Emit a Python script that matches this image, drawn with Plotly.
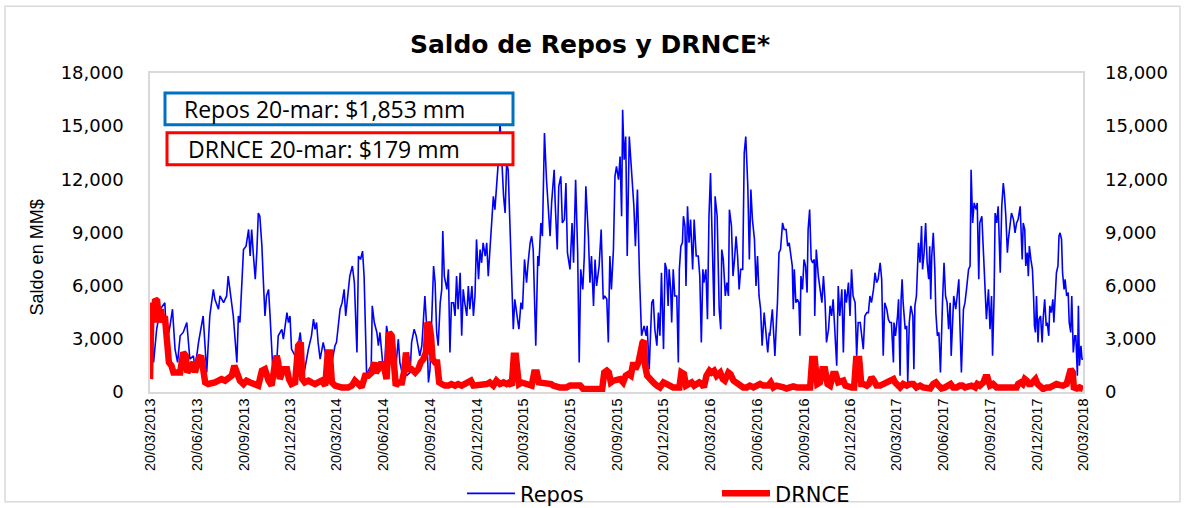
import pandas as pd
import plotly.graph_objects as go

START = pd.Timestamp("2013-03-20")
END = pd.Timestamp("2018-03-20")

# ---------------- Repos (days since 20/03/2013, MM$) ----------------
repos_days_1 = [0, 7, 13, 20, 29, 33, 39, 44, 49, 54, 59, 65, 72, 78, 85, 88, 95, 101, 104, 111,
                117, 124, 127, 134, 137, 144, 150, 153, 157, 163, 170, 173, 176, 183, 188, 193, 196, 199, 202, 206,
                209, 212, 215, 219, 222, 225, 228]
repos_vals_1 = [4670, 1670, 3540, 4670, 5040, 2800, 3700, 4670, 2420, 1670, 3170, 3360, 3920, 1860, 2040, 1290, 2800, 3920, 4290, 1100,
                4290, 5790, 5230, 4670, 5420, 5040, 5420, 6540, 5610, 4290, 1670, 4290, 3920, 8040, 8230, 9170, 7670, 9170, 7860, 6360,
                7860, 10100, 9920, 8230, 6170, 4290, 5420]

repos_days_2 = [232, 235, 238, 241, 248, 251, 258, 261, 268, 271, 274, 277, 284, 290, 294, 297, 300, 303, 310, 316,
                320, 323, 326, 329, 333, 336, 339, 343, 349, 356, 362, 365, 372, 376, 380, 383, 387, 391, 396, 400,
                405, 408, 412, 416, 419, 424, 429, 433, 435, 439, 444, 447, 450, 453, 457, 460, 463, 470, 476]
repos_vals_2 = [5790, 4290, 2420, 920, 1670, 3170, 3540, 2980, 4480, 3920, 4290, 2420, 2040, 2610, 3360, 2420, 920, 1290, 2420, 3170,
                4110, 3540, 3920, 2800, 1860, 2420, 2800, 2230, 540, 1670, 2610, 2800, 4670, 5040, 5790, 4290, 5420, 6540, 7110, 6170,
                2230, 7670, 7480, 7950, 6540, 920, 1290, 1480, 4860, 3920, 3360, 2610, 3360, 2230, 1100, 1860, 3730, 2420, 1290]

repos_days_3 = [479, 486, 489, 496, 499, 502, 509, 512, 517, 521, 525, 528, 532, 535, 538, 541, 545, 548, 551, 555,
                558, 561, 564, 568, 571, 573, 576, 581, 584, 587, 590, 594, 597, 600, 603, 607, 610, 613, 616, 620,
                623, 626, 630, 633, 636, 639, 643, 646, 649, 652, 656, 659, 662, 665, 669, 672, 675, 678, 682, 685,
                688, 692, 695, 698, 701, 705, 708, 711, 714, 721]
repos_vals_3 = [730, 2980, 1670, 730, 2040, 920, 1100, 2800, 3540, 3170, 2610, 2040, 2610, 4290, 5420, 3920, 540, 1290, 3920, 7110,
                6170, 3360, 2610, 5040, 5790, 9080, 6540, 5790, 6920, 2230, 5040, 5040, 4290, 6540, 4670, 6730, 3170, 5790, 5040, 4290,
                5980, 4670, 5980, 4290, 5420, 8610, 6360, 8040, 7290, 8420, 7670, 8420, 6540, 7860, 9730, 11040, 10290, 11420, 13110, 15200,
                13110, 11040, 10100, 12920, 12540, 9170, 5420, 3540, 5230, 3540]

repos_days_4 = [722, 726, 729, 733, 737, 740, 744, 747, 750, 755, 759, 761, 765, 768, 772, 776, 780, 783, 786, 791,
                793, 797, 800, 804, 807, 811, 814, 817, 822, 826, 829, 833, 837, 840, 843, 847, 850, 853, 858, 861,
                864, 868, 871, 874, 879, 883, 887, 890, 894, 897, 900, 903, 907, 910, 913, 917, 920, 923, 925, 928,
                931, 934, 938, 943, 947, 950, 954, 958, 962, 967]
repos_vals_4 = [3540, 5040, 4670, 7480, 6170, 7290, 8420, 8790, 8040, 2610, 7670, 7110, 9540, 8790, 14610, 11980, 10100, 8790, 10670, 12540,
                10670, 8040, 11610, 12170, 9540, 9730, 11790, 7860, 6920, 9540, 7290, 11980, 7860, 1670, 6920, 5790, 7670, 11610, 8790, 6170,
                7670, 4860, 7480, 5980, 7110, 9170, 5230, 5420, 5230, 2800, 7670, 5790, 8040, 12170, 12730, 11980, 13290, 9920, 15920, 13110,
                14420, 7670, 14420, 11980, 10480, 8230, 11420, 6540, 3170, 3730]

repos_days_5 = [971, 973, 977, 982, 985, 988, 992, 995, 998, 1001, 1005, 1008, 1011, 1014, 1016, 1019, 1021, 1024, 1027, 1031,
                1034, 1036, 1039, 1042, 1044, 1047, 1049, 1052, 1055, 1058, 1062, 1065, 1069, 1073, 1076, 1079, 1082, 1084, 1088, 1091,
                1094, 1097, 1100, 1104, 1106, 1110, 1114, 1117, 1119, 1122, 1126, 1129, 1132, 1134, 1138, 1141, 1144, 1147, 1150, 1153,
                1156, 1160, 1163, 1166, 1170, 1173, 1176, 1179, 1183, 1186, 1189, 1192, 1195, 1198, 1202, 1206, 1209, 1212]
repos_vals_5 = [3170, 3730, 1290, 5040, 5230, 3540, 2610, 4480, 3170, 6730, 2420, 7290, 6920, 4860, 6920, 5790, 3920, 6920, 5420, 5420,
                1670, 6920, 8230, 8420, 9920, 9360, 5980, 10480, 8420, 9730, 6920, 9730, 7670, 7670, 6540, 2800, 6920, 6170, 6920, 4110,
                9920, 12360, 8420, 4290, 11040, 9920, 4670, 3540, 8040, 7480, 5420, 6170, 5420, 10290, 9360, 6540, 7480, 8790, 7670, 5790,
                6920, 6920, 13480, 14420, 11610, 7480, 11420, 9730, 8610, 5980, 7670, 5420, 4670, 2610, 4480, 3170, 2230, 3360]

repos_days_6 = [1213, 1218, 1221, 1223, 1226, 1228, 1231, 1234, 1238, 1241, 1245, 1248, 1251, 1254, 1257, 1259, 1261, 1264, 1267, 1270,
                1272, 1274, 1277, 1280, 1283, 1286, 1288, 1291, 1294, 1297, 1300, 1301, 1304, 1308, 1311, 1315, 1318, 1321, 1324, 1328,
                1331, 1334, 1337, 1341, 1344, 1347, 1350, 1354, 1357, 1360, 1363, 1367, 1370, 1373, 1376, 1380, 1383, 1386, 1390, 1393,
                1396, 1399, 1403, 1406, 1409, 1412, 1416, 1419, 1422, 1425, 1429, 1432, 1435, 1438, 1442, 1445, 1448, 1451, 1455]
repos_vals_6 = [3170, 4670, 3170, 2040, 3920, 5040, 7860, 8040, 9540, 9170, 9170, 8230, 8420, 7860, 7110, 4670, 6920, 5040, 5230, 5040,
                3170, 6540, 5790, 7480, 7110, 5610, 9170, 10290, 7480, 7290, 7480, 4290, 8040, 6540, 5790, 5040, 6540, 5230, 2800, 3540,
                4860, 4290, 5230, 3170, 1480, 5980, 4290, 5790, 2230, 5790, 5040, 6170, 4290, 6920, 5420, 5040, 2040, 3920, 3920, 3170,
                2420, 4290, 4480, 4480, 5420, 5040, 5790, 6730, 6170, 6360, 7290, 6360, 2040, 5040, 4670, 4110, 3920, 3920, 1670]

repos_days_7 = [1456, 1459, 1463, 1465, 1468, 1470, 1472, 1474, 1478, 1481, 1483, 1486, 1489, 1493, 1495, 1497, 1500, 1504, 1507, 1510,
                1512, 1515, 1518, 1521, 1524, 1526, 1528, 1530, 1533, 1536, 1538, 1541, 1544, 1547, 1551, 1554, 1557, 1560, 1563, 1566,
                1568, 1571, 1573, 1577, 1580, 1583, 1585, 1588, 1592, 1595, 1598, 1602, 1605, 1607, 1610, 1613, 1617, 1619, 1622, 1624,
                1628, 1631, 1634, 1637, 1641, 1644, 1647, 1649, 1652, 1654, 1657, 1660, 1664]
repos_vals_7 = [3920, 3170, 4290, 5230, 920, 5230, 6360, 5040, 3540, 3730, 540, 3920, 4860, 4290, 1290, 4860, 5420, 8420, 7290, 9360,
                6920, 7860, 9540, 7290, 6360, 8230, 5230, 7670, 8980, 6920, 4480, 3170, 3360, 1100, 5040, 7290, 5420, 5040, 3540, 5040,
                2040, 3920, 5420, 4670, 5420, 6360, 3920, 1100, 4670, 5040, 5790, 6920, 7110, 12540, 9540, 10670, 10290, 10670, 6360, 9540,
                9920, 7670, 5980, 4110, 5790, 3540, 5420, 2040, 5420, 10100, 9540, 10480, 6730]

repos_days_8 = [1667, 1670, 1672, 1675, 1678, 1680, 1683, 1686, 1690, 1693, 1696, 1699, 1703, 1705, 1707, 1709, 1712, 1714, 1717, 1719,
                1721, 1724, 1727, 1729, 1731, 1733, 1735, 1738, 1740, 1743, 1746, 1748, 1751, 1754, 1756, 1759, 1761, 1764, 1767, 1769,
                1772, 1774, 1777, 1779, 1781, 1784, 1786, 1789, 1791, 1794, 1797, 1799, 1802, 1804, 1807, 1810, 1812, 1815, 1817, 1819,
                1822, 1824, 1826]
repos_vals_8 = [10480, 11790, 11230, 9920, 7860, 8610, 9360, 10100, 9730, 8980, 9540, 9730, 10480, 9360, 7480, 9540, 9170, 7110, 7860, 6540,
                8230, 7480, 6920, 5610, 3730, 3360, 5420, 2790, 4110, 4290, 2790, 4110, 5230, 3730, 3920, 3170, 4860, 4480, 5230, 3920,
                5610, 6730, 7110, 8790, 8980, 8610, 6730, 5790, 6360, 5420, 5610, 3920, 3360, 5420, 2230, 3170, 3170, 920, 4860, 1480,
                2610, 1860, 1853]

# ---------------- DRNCE (days since 20/03/2013, MM$) ----------------
drnce_days_1 = [0, 3, 7, 10, 14, 18, 21, 25, 29, 34, 37, 42, 46, 52, 59, 65, 70, 73, 78, 85,
                88, 95, 100, 103, 108, 114, 121, 127, 134, 140, 147, 153, 160, 165, 170, 176, 183, 189, 196, 202,
                212, 219, 225, 232]
drnce_vals_1 = [730, 5040, 3920, 5230, 5140, 3920, 4670, 3920, 4290, 2800, 1670, 1480, 1100, 1100, 1100, 2230, 2040, 1100, 1290, 1670,
                1100, 1860, 2040, 1290, 540, 450, 450, 540, 640, 730, 640, 730, 920, 1480, 1100, 640, 450, 640, 540, 450,
                360, 1200, 1290, 640]

drnce_days_2 = [235, 238, 245, 248, 251, 254, 261, 268, 272, 277, 284, 290, 295, 298, 303, 310, 316, 323, 329, 336,
                343, 348, 352, 356, 362, 369, 375, 382, 388, 395, 401, 408, 414, 421, 427, 434, 439, 442, 447, 453,
                459, 463, 468, 473]
drnce_vals_2 = [450, 360, 1670, 2040, 1670, 730, 1290, 1290, 730, 450, 540, 2610, 2800, 730, 540, 640, 540, 450, 540, 640,
                360, 2230, 2230, 540, 360, 260, 260, 260, 260, 360, 640, 450, 260, 920, 920, 1100, 1670, 1100, 1290, 1670,
                1290, 730, 3360, 3170]

drnce_days_3 = [477, 481, 486, 493, 497, 501, 506, 512, 519, 525, 530, 535, 540, 543, 547, 550, 553, 558, 562, 566,
                571, 577, 584, 590, 597, 603, 610, 616, 623, 628, 633, 639, 646, 652, 659, 665, 672, 678, 685, 692,
                698, 703, 708, 712, 716, 721]
drnce_vals_3 = [1290, 360, 540, 540, 1100, 2230, 1290, 1290, 1100, 1290, 1670, 1860, 2230, 3920, 3730, 3170, 1860, 1670, 1670, 540,
                450, 360, 360, 450, 360, 450, 360, 450, 540, 640, 360, 360, 450, 360, 450, 540, 360, 640, 450, 540,
                450, 540, 360, 2040, 2040, 640]

drnce_days_4 = [722, 727, 734, 740, 747, 752, 757, 761, 767, 773, 780, 785, 789, 796, 802, 809, 815, 822, 828, 835,
                842, 848, 855, 861, 868, 874, 881, 885, 889, 894, 898, 902, 907, 913, 920, 926, 931, 936, 941, 946,
                950, 956, 960, 964, 967]
drnce_vals_4 = [450, 540, 450, 450, 360, 1100, 1100, 540, 540, 540, 450, 450, 360, 260, 260, 260, 260, 360, 360, 450,
                360, 170, 170, 170, 170, 170, 170, 170, 1100, 1200, 1100, 540, 640, 640, 730, 540, 920, 1010, 920, 1670,
                1290, 1670, 2610, 2800, 2890]

drnce_days_5 = [969, 973, 978, 985, 992, 998, 1005, 1011, 1018, 1024, 1031, 1036, 1040, 1045, 1049, 1055, 1060, 1065, 1070, 1075,
                1080, 1084, 1089, 1095, 1099, 1104, 1109, 1116, 1121, 1125, 1132, 1136, 1142, 1148, 1155, 1161, 1168, 1174, 1181, 1187,
                1194, 1200, 1207]
drnce_vals_5 = [1480, 920, 730, 540, 360, 260, 540, 450, 360, 260, 260, 260, 1100, 1010, 360, 450, 540, 360, 450, 540,
                450, 260, 920, 1200, 1100, 1200, 920, 1100, 730, 640, 1100, 1010, 640, 540, 360, 260, 260, 360, 260, 360,
                450, 360, 360]

drnce_days_6 = [1210, 1215, 1220, 1226, 1233, 1240, 1246, 1253, 1259, 1266, 1272, 1279, 1285, 1292, 1296, 1301, 1306, 1311, 1316, 1321,
                1326, 1331, 1337, 1342, 1347, 1352, 1357, 1361, 1367, 1373, 1378, 1382, 1388, 1392, 1396, 1403, 1407, 1412, 1417, 1422,
                1429, 1435, 1440, 1445, 1450, 1455]
drnce_vals_6 = [360, 540, 260, 360, 260, 260, 200, 260, 320, 260, 260, 260, 320, 260, 1860, 1860, 450, 540, 1290, 1290,
                450, 360, 1010, 1010, 540, 640, 640, 360, 260, 260, 260, 1860, 1860, 450, 450, 360, 450, 830, 640, 360,
                360, 450, 540, 540, 640, 730]

drnce_days_7 = [1458, 1463, 1468, 1474, 1481, 1487, 1494, 1500, 1507, 1513, 1520, 1527, 1533, 1538, 1543, 1549, 1556, 1562, 1567, 1572,
                1579, 1585, 1590, 1595, 1602, 1608, 1615, 1619, 1624, 1631, 1635, 1639, 1644, 1650, 1657, 1664]
drnce_vals_7 = [540, 360, 260, 450, 360, 450, 450, 260, 360, 260, 200, 200, 450, 540, 360, 200, 260, 360, 450, 260,
                260, 360, 360, 260, 360, 360, 260, 450, 360, 540, 830, 830, 360, 450, 260, 260]

drnce_days_8 = [1670, 1677, 1683, 1690, 1696, 1699, 1704, 1708, 1712, 1716, 1720, 1724, 1729, 1733, 1737, 1742, 1748, 1755, 1761, 1768,
                1774, 1781, 1787, 1794, 1799, 1802, 1806, 1808, 1814, 1819, 1823, 1826]
drnce_vals_8 = [170, 260, 260, 170, 260, 450, 540, 450, 730, 640, 450, 450, 640, 730, 450, 260, 170, 260, 260, 360,
                450, 390, 360, 450, 1290, 1290, 1110, 260, 200, 260, 200, 179]

# ---------------- axis labels ----------------
x_tick_labels = ["20/03/2013", "20/06/2013", "20/09/2013", "20/12/2013", "20/03/2014", "20/06/2014", "20/09/2014",
                 "20/12/2014", "20/03/2015", "20/06/2015", "20/09/2015", "20/12/2015", "20/03/2016", "20/06/2016",
                 "20/09/2016", "20/12/2016", "20/03/2017", "20/06/2017", "20/09/2017", "20/12/2017", "20/03/2018"]
y_ticks = [0, 3000, 6000, 9000, 12000, 15000, 18000]

title_text = "Saldo de Repos y DRNCE*"
y_title = "Saldo en MM$"
box_repos = "Repos 20-mar: $1,853 mm"
box_drnce = "DRNCE 20-mar: $179 mm"

# ---------------- assemble ----------------
repos_days = (repos_days_1 + repos_days_2 + repos_days_3 + repos_days_4 +
              repos_days_5 + repos_days_6 + repos_days_7 + repos_days_8)
repos_vals = (repos_vals_1 + repos_vals_2 + repos_vals_3 + repos_vals_4 +
              repos_vals_5 + repos_vals_6 + repos_vals_7 + repos_vals_8)
drnce_days = (drnce_days_1 + drnce_days_2 + drnce_days_3 + drnce_days_4 +
              drnce_days_5 + drnce_days_6 + drnce_days_7 + drnce_days_8)
drnce_vals = (drnce_vals_1 + drnce_vals_2 + drnce_vals_3 + drnce_vals_4 +
              drnce_vals_5 + drnce_vals_6 + drnce_vals_7 + drnce_vals_8)
assert len(repos_days) == len(repos_vals), (len(repos_days), len(repos_vals))
assert len(drnce_days) == len(drnce_vals), (len(drnce_days), len(drnce_vals))


def to_dates(days):
    return [START + pd.Timedelta(days=d) for d in days]


tick_vals = [pd.to_datetime(t, format="%d/%m/%Y") for t in x_tick_labels]

fig = go.Figure()
fig.add_trace(go.Scatter(x=to_dates(repos_days), y=repos_vals, mode="lines", name="Repos",
                         line=dict(color="#0000FF", width=1.6), yaxis="y"))
fig.add_trace(go.Scatter(x=to_dates(drnce_days), y=drnce_vals, mode="lines", name="DRNCE",
                         line=dict(color="#FF0000", width=6.5), yaxis="y2"))

# the page renders the figure somewhat shorter than the requested height,
# so request a taller figure to get an effective ~508 px canvas
W, H = 1185, 526
H_VIEW = 508
L, R, T, B = 150, 1083, 73, 393
B_MARGIN = 115


def px(x):
    return (x - L) / (R - L)


def py(y):
    return (B - y) / (B - T)


tickfont = dict(family="DejaVu Sans", size=18, color="black")

fig.update_layout(
    width=W, height=H, autosize=False,
    margin=dict(l=L, r=W - R, t=T, b=B_MARGIN),
    paper_bgcolor="white", plot_bgcolor="white",
    title=dict(text="<b>" + title_text + "</b>", x=px(590), xref="paper", xanchor="center",
               y=1 - 43 / H_VIEW, yref="container", yanchor="middle",
               font=dict(family="DejaVu Sans", size=25, color="black")),
    xaxis=dict(type="date", range=[START, END], tickvals=tick_vals, ticktext=x_tick_labels,
               tickangle=-90, tickfont=dict(family="Liberation Sans", size=14.5, color="black"),
               showgrid=False, zeroline=False, showline=True, linecolor="#d9d9d9", linewidth=1.5,
               mirror=True, ticks="", ticklabelstandoff=-1),
    yaxis=dict(range=[0, 18000], tickvals=y_ticks, tickformat=",d", tickfont=tickfont,
               showgrid=False, zeroline=False, showline=True, linecolor="#d9d9d9", linewidth=1.5,
               mirror=True, ticks="", ticklabelstandoff=21),
    yaxis2=dict(range=[0, 18000], tickvals=y_ticks, tickformat=",d", tickfont=tickfont,
                overlaying="y", side="right", showgrid=False, zeroline=False, showline=False,
                ticks="", ticklabelstandoff=21),
    showlegend=True,
    legend=dict(orientation="h", x=px(462), xanchor="left", y=py(495), yanchor="middle",
                font=dict(family="DejaVu Sans", size=21, color="black"),
                itemwidth=48, entrywidth=192, bgcolor="rgba(0,0,0,0)"),
    shapes=[
        dict(type="rect", xref="paper", yref="paper", x0=px(5), x1=px(1180), y0=py(503), y1=py(6),
             line=dict(color="#d9d9d9", width=1.5), fillcolor="rgba(0,0,0,0)", layer="below"),
        dict(type="rect", xref="paper", yref="paper", x0=px(165), x1=px(513), y0=py(125), y1=py(93),
             line=dict(color="#0070C0", width=3), fillcolor="white", layer="above"),
        dict(type="rect", xref="paper", yref="paper", x0=px(167), x1=px(513), y0=py(165), y1=py(133),
             line=dict(color="#FF0000", width=3), fillcolor="white", layer="above"),
    ],
    annotations=[
        dict(text=y_title, xref="paper", yref="paper", x=px(37), y=py(258), xanchor="center", yanchor="middle",
             textangle=-90, showarrow=False,
             font=dict(family="Liberation Sans", size=18, color="black")),
        dict(text=box_repos, xref="paper", yref="paper", x=px(182), y=py(109), xanchor="left", yanchor="middle",
             showarrow=False, font=dict(family="Open Sans", size=23, color="black")),
        dict(text=box_drnce, xref="paper", yref="paper", x=px(186), y=py(149), xanchor="left", yanchor="middle",
             showarrow=False, font=dict(family="Open Sans", size=23, color="black")),
    ],
)

fig.write_html("out.html",
               config={"responsive": False, "displayModeBar": False},
               post_script="document.body.style.margin='0px';")
